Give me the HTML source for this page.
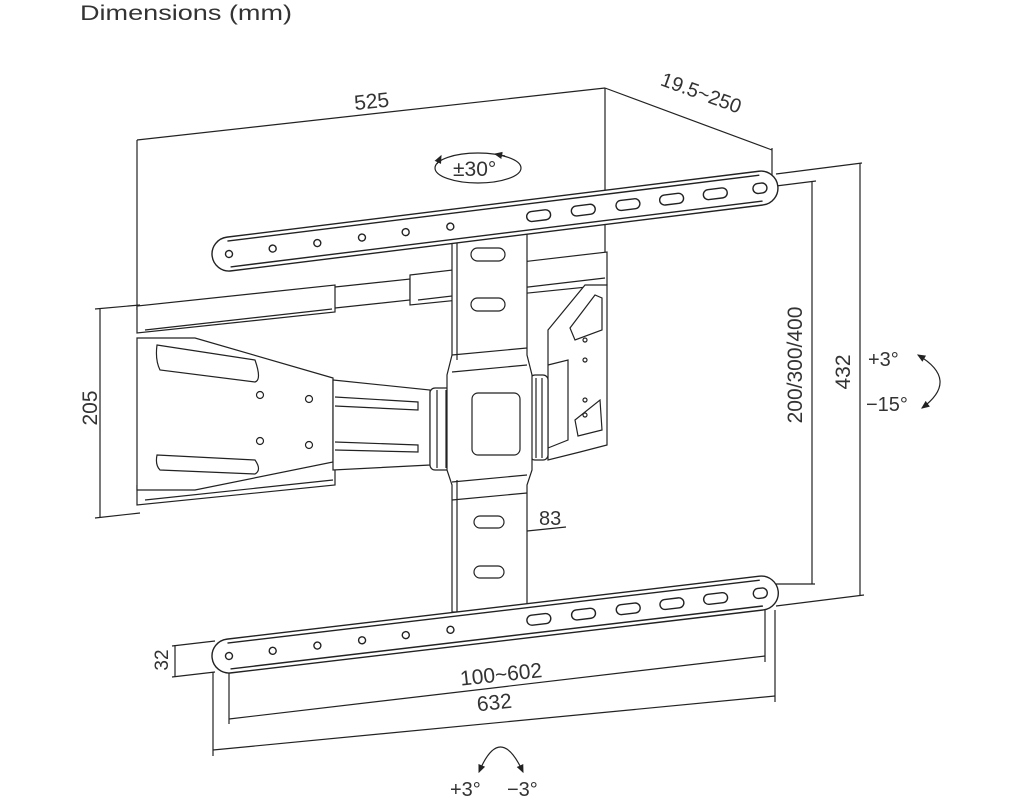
<!DOCTYPE html>
<html><head><meta charset="utf-8"><style>
html,body{margin:0;padding:0;background:#fff;}
svg{display:block}
text{font-family:"Liberation Sans",sans-serif;fill:#333;}
</style></head><body>
<svg width="1024" height="800" viewBox="0 0 1024 800" xmlns="http://www.w3.org/2000/svg">
<defs>
<marker id="ah" markerWidth="8" markerHeight="8" refX="6" refY="4" orient="auto"><path d="M0,1 L7,4 L0,7 z" fill="#222"/></marker>
<marker id="as" markerWidth="8" markerHeight="8" refX="1" refY="4" orient="auto"><path d="M7,1 L0,4 L7,7 z" fill="#222"/></marker>
</defs>
<text x="80" y="20" font-size="21" textLength="212" lengthAdjust="spacingAndGlyphs">Dimensions (mm)</text>
<g stroke="#222" stroke-width="1.2" fill="none">
<line x1="137" y1="140" x2="605" y2="88"/>
<line x1="137" y1="140" x2="137" y2="310"/>
<line x1="605" y1="88" x2="605" y2="256"/>
<line x1="605" y1="88" x2="772" y2="150"/>
<line x1="772" y1="148" x2="772" y2="180"/>
<line x1="776" y1="174" x2="862" y2="163"/>
<line x1="776" y1="186" x2="816" y2="181"/>
<line x1="860" y1="163" x2="860" y2="596"/>
<line x1="812" y1="181" x2="812" y2="584"/>
<line x1="770" y1="584" x2="815" y2="584"/>
<line x1="776" y1="606" x2="864" y2="595"/>
<line x1="100" y1="308" x2="100" y2="518"/>
<line x1="95" y1="309" x2="140" y2="305"/>
<line x1="95" y1="518" x2="140" y2="513"/>
<line x1="175" y1="645" x2="175" y2="677"/>
<line x1="172" y1="646" x2="215" y2="641"/>
<line x1="172" y1="677" x2="215" y2="672"/>
<line x1="229" y1="658" x2="229" y2="724"/>
<line x1="765" y1="596" x2="765" y2="662"/>
<line x1="229" y1="719" x2="765" y2="656"/>
<line x1="213" y1="672" x2="213" y2="756"/>
<line x1="775" y1="610" x2="775" y2="702"/>
<line x1="213" y1="750" x2="775" y2="696"/>
<line x1="527" y1="531" x2="566" y2="527"/>
<!-- rotation arrows -->
<ellipse cx="478" cy="168" rx="43" ry="15"/>
<path d="M437,164 L441,156" marker-end="url(#ah)"/>
<path d="M505,156 L495,154" marker-end="url(#ah)"/>
<path d="M918,355 Q960,380 922,408" marker-start="url(#as)" marker-end="url(#ah)"/>
<path d="M479,772 Q500,722 523,772" marker-start="url(#as)" marker-end="url(#ah)"/>

<!-- back channels -->
<path d="M137,306 L137,333 L335,312 L335,285 Z" fill="#fff"/>
<path d="M145,330 L332,309"/>
<path d="M335,287 L410,279 L410,300 L335,308"/>
<path d="M410,275 L607,252 L607,285 L410,305 Z" fill="#fff"/>
<path d="M418,300 L605,278"/>
<path d="M137,485 L137,505 L335,485 L335,465"/>
<path d="M145,500 L333,480"/>
<!-- left arm plate -->
<path d="M137,338 L195,338 L333,378 L333,462 L195,490 L137,490 Z" fill="#fff"/>
<path d="M157,345 L255,360 Q262,380 255,382 L160,370 Q155,360 157,345 Z"/>
<path d="M157,455 L255,460 Q262,470 255,474 L160,470 Q155,465 157,455 Z"/>
<circle cx="260" cy="395" r="3.5"/><circle cx="309" cy="399" r="3.5"/>
<circle cx="260" cy="441" r="3.5"/><circle cx="309" cy="445" r="3.5"/>
<!-- arm -->
<path d="M333,380 L430,390 L430,465 L333,470 Z" fill="#fff"/>
<path d="M335,397 L418,402 L418,410 L335,406"/>
<path d="M335,442 L418,445 L418,452 L335,450"/>
<rect x="430" y="388" width="22" height="82" rx="5" fill="#fff"/>
<line x1="437" y1="390" x2="437" y2="468"/><line x1="446" y1="390" x2="446" y2="468"/>
<!-- right plate -->
<path d="M548,330 L585,285 L607,285 L607,445 L580,452 L548,460 Z" fill="#fff"/>
<path d="M570,328 L595,295 L602,298 L602,330 L575,340 Z"/>
<path d="M575,420 L600,400 L602,430 L578,436 Z"/>
<circle cx="585" cy="340" r="2"/><circle cx="585" cy="360" r="2"/><circle cx="585" cy="400" r="2"/><circle cx="585" cy="415" r="2"/>
<path d="M548,365 L568,360 L568,440 L548,448"/>
<rect x="530" y="375" width="18" height="85" rx="5" fill="#fff"/>
<line x1="536" y1="378" x2="536" y2="458"/><line x1="542" y1="378" x2="542" y2="458"/>
<!-- vertical plate -->
<path d="M452,222 L527,222 L527,355 L532,375 L532,470 L527,485 L527,612 L452,612 L452,485 L447,470 L447,375 L452,355 Z" fill="#fff"/>
<line x1="457" y1="222" x2="457" y2="360"/>
<line x1="457" y1="480" x2="457" y2="612"/>
<line x1="452" y1="355" x2="527" y2="348"/>
<line x1="452" y1="372" x2="527" y2="365"/>
<line x1="452" y1="482" x2="527" y2="475"/>
<line x1="452" y1="500" x2="527" y2="493"/>
<rect x="472" y="393" width="48" height="62" rx="6"/>
<rect x="471" y="248" width="34" height="13" rx="6.5"/>
<rect x="471" y="298" width="34" height="13" rx="6.5"/>
<rect x="474" y="516" width="30" height="12" rx="6"/>
<rect x="474" y="566" width="30" height="12" rx="6"/>
</g>

<g transform="translate(229,254) rotate(-7.06)" stroke="#222" stroke-width="1.4" fill="#fff">
<rect x="-17" y="-17" width="570" height="34" rx="17"/>
<line x1="0" y1="-13" x2="536" y2="-13" fill="none"/>
<line x1="0" y1="13" x2="536" y2="13" fill="none"/>
<circle cx="0" cy="0" r="3.5"/><circle cx="44" cy="0" r="3.5"/><circle cx="89" cy="0" r="3.5"/><circle cx="134" cy="0" r="3.5"/><circle cx="178" cy="0" r="3.5"/><circle cx="223" cy="0" r="3.5"/>
<rect x="300" y="-5" width="24" height="10" rx="5"/><rect x="345" y="-5" width="24" height="10" rx="5"/><rect x="390" y="-5" width="24" height="10" rx="5"/><rect x="434" y="-5" width="24" height="10" rx="5"/><rect x="478" y="-5" width="24" height="10" rx="5"/>
<rect x="528" y="-5" width="14" height="10" rx="5"/>
</g>
<g transform="translate(229,656) rotate(-6.74)" stroke="#222" stroke-width="1.4" fill="#fff">
<rect x="-17" y="-17" width="570" height="34" rx="17"/>
<line x1="0" y1="-13" x2="536" y2="-13" fill="none"/>
<line x1="0" y1="13" x2="536" y2="13" fill="none"/>
<circle cx="0" cy="0" r="3.5"/><circle cx="44" cy="0" r="3.5"/><circle cx="89" cy="0" r="3.5"/><circle cx="134" cy="0" r="3.5"/><circle cx="178" cy="0" r="3.5"/><circle cx="223" cy="0" r="3.5"/>
<rect x="300" y="-5" width="24" height="10" rx="5"/><rect x="345" y="-5" width="24" height="10" rx="5"/><rect x="390" y="-5" width="24" height="10" rx="5"/><rect x="434" y="-5" width="24" height="10" rx="5"/><rect x="478" y="-5" width="24" height="10" rx="5"/>
<rect x="528" y="-5" width="14" height="10" rx="5"/>
</g>

<text x="354" y="108" font-size="21" transform="rotate(-6 375 100)">525</text>
<text x="655" y="100" font-size="20" transform="rotate(20 700 105)">19.5~250</text>
<text x="453" y="176" font-size="21">±30°</text>
<text x="868" y="366" font-size="20">+3°</text>
<text x="866" y="411" font-size="20">−15°</text>
<text font-size="21" transform="translate(850,372) rotate(-90)" text-anchor="middle">432</text>
<text font-size="21" transform="translate(802,365) rotate(-90)" text-anchor="middle">200/300/400</text>
<text font-size="21" transform="translate(97,408) rotate(-90)" text-anchor="middle">205</text>
<text font-size="19" transform="translate(168,660) rotate(-90)" text-anchor="middle">32</text>
<text x="539" y="525" font-size="20">83</text>
<text x="460" y="681" font-size="21" transform="rotate(-6 505 675)">100~602</text>
<text x="477" y="710" font-size="21" transform="rotate(-6 490 705)">632</text>
<text x="450" y="796" font-size="20">+3°</text>
<text x="507" y="796" font-size="20">−3°</text>
</svg>
</body></html>
